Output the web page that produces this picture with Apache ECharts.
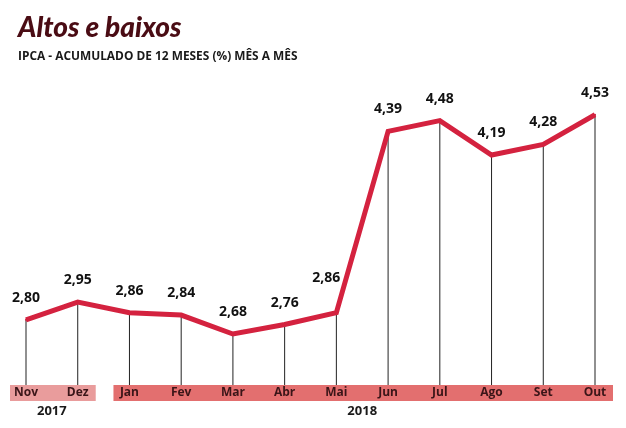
<!DOCTYPE html>
<html><head><meta charset="utf-8">
<script src="https://cdn.jsdelivr.net/npm/echarts@6/dist/echarts.min.js"></script>
<style>html,body{margin:0;padding:0;background:#fff}#c{width:626px;height:428px}</style>
</head><body><div id="c"></div>
<script>
const categories = ['Nov','Dez','Jan','Fev','Mar','Abr','Mai','Jun','Jul','Ago','Set','Out'];
const values = [2.80, 2.95, 2.86, 2.84, 2.68, 2.76, 2.86, 4.39, 4.48, 4.19, 4.28, 4.53];
const years = [
  { label: '2017', from: 'Nov', to: 'Dez', color: '#e99c9c' },
  { label: '2018', from: 'Jan', to: 'Out', color: '#e36f6f' }
];
const yMin = 2.25, yMax = 5.0;

const chart = echarts.init(document.getElementById('c'), null, { renderer: 'canvas' });
const fmt = v => v.toFixed(2).replace('.', ',');
const lineData = values.map((v, i) => i === 6 ? { value: v, label: { offset: [-10, -13] } } : v);
chart.setOption({
  animation: false,
  title: {
    text: 'Altos e baixos',
    subtext: 'IPCA - ACUMULADO DE 12 MESES (%) MÊS A MÊS',
    left: 13, top: 9, itemGap: 9,
    textStyle: { fontFamily: 'Lato', fontStyle: 'italic', fontWeight: 900, fontSize: 28, color: '#4a0c14' },
    subtextStyle: { fontFamily: 'Open Sans', fontWeight: 'bold', fontSize: 11.9, color: '#1a1a1a' }
  },
  grid: { left: 26, right: 31, top: 59, bottom: 43 },
  xAxis: {
    type: 'category', data: categories, boundaryGap: false,
    axisLine: { show: false }, axisTick: { show: false }, splitLine: { show: false },
    axisLabel: { margin: 8, verticalAlign: 'middle', fontFamily: 'Open Sans', fontWeight: 'bold', fontSize: 12, color: '#3a1518', interval: 0 }
  },
  yAxis: { type: 'value', min: yMin, max: yMax, show: false },
  series: [
    { type: 'bar', data: values, barWidth: 1, itemStyle: { color: '#222' }, z: 1, silent: true },
    {
      type: 'line', data: lineData, symbol: 'circle', symbolSize: 2, showSymbol: true, z: 3,
      itemStyle: { color: '#d4223f' },
      lineStyle: { color: '#d4223f', width: 5, join: 'miter' },
      label: { show: true, position: 'top', distance: 14, formatter: p => fmt(p.value),
        fontFamily: 'Open Sans', fontWeight: 'bold', fontSize: 14, color: '#111' }
    }
  ]
});

function drawBands() {
  const g = [];
  const gridBottom = chart.convertToPixel({ yAxisIndex: 0 }, yMin);
  years.forEach(y => {
    const x1 = chart.convertToPixel({ xAxisIndex: 0 }, y.from);
    const x2 = chart.convertToPixel({ xAxisIndex: 0 }, y.to);
    g.push({ type: 'rect', z: -1, shape: { x: x1 - 16, y: gridBottom, width: x2 - x1 + 34, height: 16 }, style: { fill: y.color } });
    g.push({ type: 'text', x: (x1 + x2) / 2, y: gridBottom + 26, style: { text: y.label, fill: '#1a1a1a', font: 'bold 13px "Open Sans"', textAlign: 'center', textVerticalAlign: 'middle' } });
  });
  chart.setOption({ graphic: g });
}
drawBands();
</script></body></html>
